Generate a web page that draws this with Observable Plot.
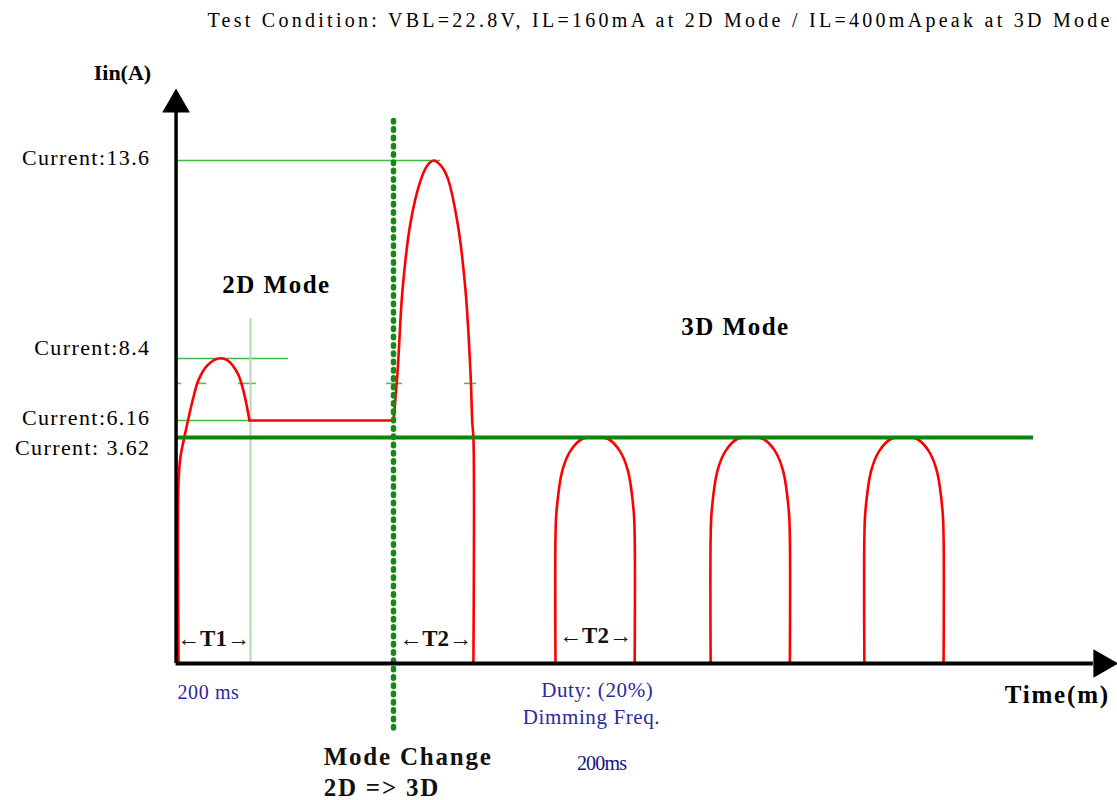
<!DOCTYPE html>
<html><head><meta charset="utf-8">
<script src="https://cdn.jsdelivr.net/npm/d3@7"></script>
<script src="https://cdn.jsdelivr.net/npm/@observablehq/plot@0.6"></script>
<style>
body{margin:0;background:#fff}
svg text{font-family:"Liberation Serif","Times New Roman",serif}
g[aria-description="levels"] text{letter-spacing:1.4px}
g[aria-description="modes"] text{letter-spacing:1.5px}
g[aria-description="change"] text{letter-spacing:1.8px}
g[aria-description="blue"] text{letter-spacing:0.6px}
g[aria-description="freq"] text{letter-spacing:-0.8px}
</style></head><body><div id="chart"></div><script>
// ---- data (time in ms, current in A) ----
const titleText = "Test Condition: VBL=22.8V, IL=160mA at 2D Mode / IL=400mApeak at 3D Mode";
const levelValues = [13.6, 8.4, 6.16, 3.62];
const levelLabels = ["Current:13.6", "Current:8.4", "Current:6.16", "Current: 3.62"];
const levelLabelY = [13.7, 8.69, 6.27, 3.46];
const thinGuideLevels = [13.6, 8.4, 6.16];
const thinGuideEnds = [731, 308, 200];
const peak3D = 3.62, peak3DEnd = 2378;
const t1End = 203, t1Top = 9.45;
const modeChangeT = 600;
// short light-green tick remnants at 7.5 A
const tickLevel = 7.5;
const tickStart = [-3, 58, 169, 581, 797];
const tickEnd = [11, 81, 219, 625, 831];

// red waveform segments
const pulse2D_t = [3, 3, 8, 17, 31, 44, 58, 83, 114, 139, 167, 183, 200];
const pulse2D_I = [0, 2.93, 3.30, 3.57, 6.27, 6.99, 7.61, 8.15, 8.4, 8.33, 7.86, 7.24, 6.16];
const hold2D_t = [200, 600];
const hold2D_I = [6.16, 6.16];
const change_t = [600, 611, 625, 647, 675, 694, 711, 731, 750, 778, 800, 814, 819, 822, 822];
const change_I = [6.16, 7.86, 10.19, 11.95, 13.07, 13.47, 13.6, 13.47, 13.15, 11.95, 10.19, 7.86, 5.71, 3.62, 0];
const arch1_t = [1050, 1050, 1053, 1069, 1092, 1125, 1160, 1195, 1228, 1251, 1267, 1270, 1270];
const arch2_t = [1481, 1481, 1484, 1500, 1523, 1556, 1591, 1626, 1659, 1682, 1698, 1701, 1701];
const arch3_t = [1908, 1908, 1911, 1927, 1950, 1983, 2018, 2053, 2086, 2109, 2125, 2128, 2128];
const arch_I = [0, 2.02, 2.45, 3.09, 3.41, 3.60, 3.62, 3.60, 3.41, 3.09, 2.45, 2.02, 0];

const modeLabels = ["2D Mode", "3D Mode"];
const modeT = [275, 1550], modeI = [10.32, 9.24];
const periodLabels = ["←T1→", "←T2→", "←T2→"];
const periodT = [100, 717, 1161], periodI = [0.40, 0.40, 0.45];
const blueLabels = ["Duty: (20%)", "Dimming Freq."];
const blueT = [1166, 1150], blueI = [-0.43, -0.865];

// ---- build tables ----
const wave = [];
const addSeg = (name, ts, is) => ts.forEach((t, i) => wave.push({seg: name, t, I: is[i]}));
addSeg("pulse2D", pulse2D_t, pulse2D_I);
addSeg("hold2D", hold2D_t, hold2D_I);
addSeg("change", change_t, change_I);
addSeg("arch1", arch1_t, arch_I);
addSeg("arch2", arch2_t, arch_I);
addSeg("arch3", arch3_t, arch_I);

const guides = thinGuideLevels.map((v, i) => ({I: v, end: thinGuideEnds[i]}));
const ticks = tickStart.map((s, i) => ({s, e: tickEnd[i], I: tickLevel}));
const levelTable = levelLabels.map((s, i) => ({s, I: levelLabelY[i]}));
const modeTable = modeLabels.map((s, i) => ({s, t: modeT[i], I: modeI[i]}));
const periodTable = periodLabels.map((s, i) => ({s, t: periodT[i], I: periodI[i]}));
const blueTable = blueLabels.map((s, i) => ({s, t: blueT[i], I: blueI[i]}));

const serif = "Liberation Serif, Times New Roman, serif";

const chart = Plot.plot({
  width: 1117, height: 800, margin: 0,
  style: {background: "#fff"},
  x: {type: "linear", domain: [0, 1000], range: [177, 537], axis: null},
  y: {type: "linear", domain: [0, 3.62, 6.16, 8.4, 13.6, 16], range: [663, 437, 420, 358, 160, 88], axis: null},
  marks: [
    // thin green guides
    Plot.ruleY(guides, {y: "I", x1: 0, x2: "end", stroke: "#3dbb3d", strokeWidth: 1.3}),
    Plot.ruleY(ticks, {y: "I", x1: "s", x2: "e", stroke: "#5cb85c", strokeWidth: 1.6}),
    // T1 boundary
    Plot.ruleX([t1End], {x: d => d, y1: 0, y2: t1Top, stroke: "#b3d9b3", strokeWidth: 2}),
    // red waveform
    Plot.line(wave, {x: "t", y: "I", z: "seg", stroke: "#ff0000", strokeWidth: 2.6, curve: "catmull-rom"}),
    // thick 3D peak line
    Plot.ruleY([peak3D], {y: d => d, x1: 0, x2: peak3DEnd, stroke: "#0a870a", strokeWidth: 4}),
    // mode change dotted line
    Plot.ruleX([modeChangeT], {x: d => d, y1: -1.04, y2: 15.03, stroke: "#138a13", strokeWidth: 5.5, strokeDasharray: "1.5,6.8", strokeLinecap: "round"}),
    // axes
    Plot.ruleX([-4], {x: d => d, y1: 0, y2: 15.2, stroke: "#000", strokeWidth: 3.5}),
    Plot.ruleY([0], {y: d => d, x1: -4, x2: 2544, stroke: "#000", strokeWidth: 4}),
    Plot.dot([{t: -4, I: 15.47}], {x: "t", y: "I", symbol: "triangle", r: 10.3, fill: "#000", stroke: null}),
    Plot.dot([{t: 2567, I: 0}], {x: "t", y: "I", symbol: "triangle", r: 10.6, fill: "#000", stroke: null, rotate: 90}),
    // texts
    Plot.text([titleText], {x: 1336, y: 18.27, text: d => d, fontSize: 20, fontFamily: serif, fill: "#000", ariaDescription: "title"}),
    Plot.text(["Iin(A)"], {x: -153, y: 16.53, text: d => d, fontSize: 22, fontWeight: "bold", fontFamily: serif, fill: "#000"}),
    Plot.text(levelTable, {x: -75, y: "I", text: "s", textAnchor: "end", fontSize: 22, fontFamily: serif, fill: "#000", ariaDescription: "levels"}),
    Plot.text(modeTable, {x: "t", y: "I", text: "s", fontSize: 25, fontWeight: "bold", fontFamily: serif, fill: "#000", ariaDescription: "modes"}),
    Plot.text(periodTable, {x: "t", y: "I", text: "s", fontSize: 23, fontWeight: "bold", fontFamily: serif, fill: "#111"}),
    Plot.text(["200 ms"], {x: 0, y: -0.465, text: d => d, textAnchor: "start", fontSize: 20, fontFamily: serif, fill: "#2a2aa0", ariaDescription: "blue"}),
    Plot.text(blueTable, {x: "t", y: "I", text: "s", fontSize: 21, fontFamily: serif, fill: "#2a2aa0", ariaDescription: "blue"}),
    Plot.text(["200ms"], {x: 1178, y: -1.6, text: d => d, fontSize: 20, fontFamily: serif, fill: "#121285", ariaDescription: "freq"}),
    Plot.text(["Mode Change", "2D => 3D"], {x: 406, y: [-1.5, -1.99], text: d => d, textAnchor: "start", fontSize: 25, fontWeight: "bold", fontFamily: serif, fill: "#111", ariaDescription: "change"}),
    Plot.text(["Time(m)"], {x: 2590, y: -0.51, text: d => d, textAnchor: "end", fontSize: 25, fontWeight: "bold", fontFamily: serif, fill: "#000", ariaDescription: "change"})
  ]
});
document.getElementById("chart").appendChild(chart);
const tt = chart.querySelector('g[aria-description="title"] text');
if (tt) { tt.setAttribute("textLength", 902); tt.setAttribute("lengthAdjust", "spacing"); }
</script></body></html>
